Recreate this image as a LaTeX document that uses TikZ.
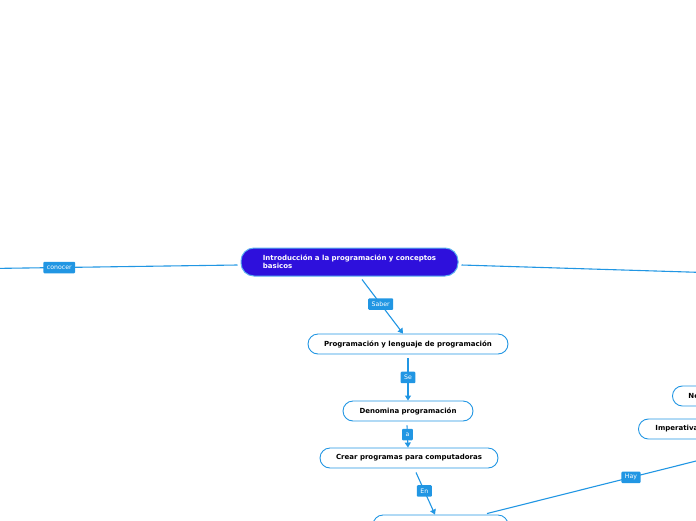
\documentclass[tikz,border=0pt]{standalone}
\usepackage{fontspec}
\setsansfont{DejaVu Sans}
\usetikzlibrary{arrows.meta,calc}
\definecolor{lineblue}{HTML}{2196E3}
\definecolor{mainfill}{HTML}{2E10DC}
\definecolor{mainborder}{HTML}{5BB0F0}
\tikzset{
  box/.style={draw=lineblue, line width=0.9pt, fill=white, rounded corners=10pt,
    minimum height=20pt, inner sep=0pt, font=\sffamily\bfseries\fontsize{7}{8.5}\selectfont, text=black},
  lab/.style={fill=lineblue, text=white, rounded corners=1pt, inner xsep=3.5pt, inner ysep=0pt,
    minimum height=11.5pt, font=\sffamily\fontsize{6.2}{7}\selectfont},
  conn/.style={draw=lineblue, line width=1.1pt},
  arr/.style={conn, -{Triangle[width=6pt,length=5pt]}},
}
\begin{document}
\begin{tikzpicture}[x=1pt,y=-1pt]
\useasboundingbox (0,0) rectangle (696,520);
\clip (0,0) rectangle (696,520);
% nodes
\node[draw=mainborder, line width=1pt, fill=mainfill, rounded corners=13pt, minimum width=217pt,
  minimum height=28pt, text=white, align=left, inner sep=0pt,
  font=\sffamily\bfseries\fontsize{7}{8.2}\selectfont] (main) at (349.5,262)
  {Introducción a la programación y conceptos\\basicos};
\node[box, minimum width=200pt] (n2) at (408,344) {Programación y lenguaje de programación};
\node[box, minimum width=130pt] (n3) at (408,411) {Denomina programación};
\node[box, minimum width=178pt] (n4) at (409,458) {Crear programas para computadoras};
\node[box, minimum width=135pt] (n5) at (440.5,525) {};
\node[box, anchor=west, minimum width=90pt, text width=70pt, align=left, inner xsep=16pt] (ne) at (672,396) {Ne};
\node[box, anchor=west, minimum width=90pt, text width=70pt, align=left, inner xsep=17pt] (imp) at (638,429) {Imperativa};
% free ends
\coordinate (L) at (-10,268.5);
\coordinate (R) at (720,273);
\coordinate (H) at (720,455);
% connectors
\draw[conn] ([yshift=-3pt,xshift=-3pt]main.west) -- node[lab, pos=0.72] {conocer} (L);
\draw[conn] ([yshift=-3pt,xshift=3pt]main.east) -- (R);
\draw[arr] ([xshift=12.5pt,yshift=-3pt]main.south) -- node[lab, pos=0.456] {Saber} ([xshift=-5pt]n2.north);
\draw[arr] ([yshift=-4pt]n2.south) -- node[lab, pos=0.45] {Se} (n3.north);
\draw[arr] ([xshift=-1pt,yshift=-4pt]n3.south) -- node[lab, pos=0.41] {a} ([xshift=-1pt]n4.north);
\draw[arr] ([xshift=7pt,yshift=-4pt]n4.south) -- node[lab, pos=0.44] {En} ([xshift=-5.5pt]n5.north);
\draw[conn] ([xshift=46.5pt,yshift=1pt]n5.north) -- node[lab, pos=0.618] {Hay} (H);
\end{tikzpicture}
\end{document}
